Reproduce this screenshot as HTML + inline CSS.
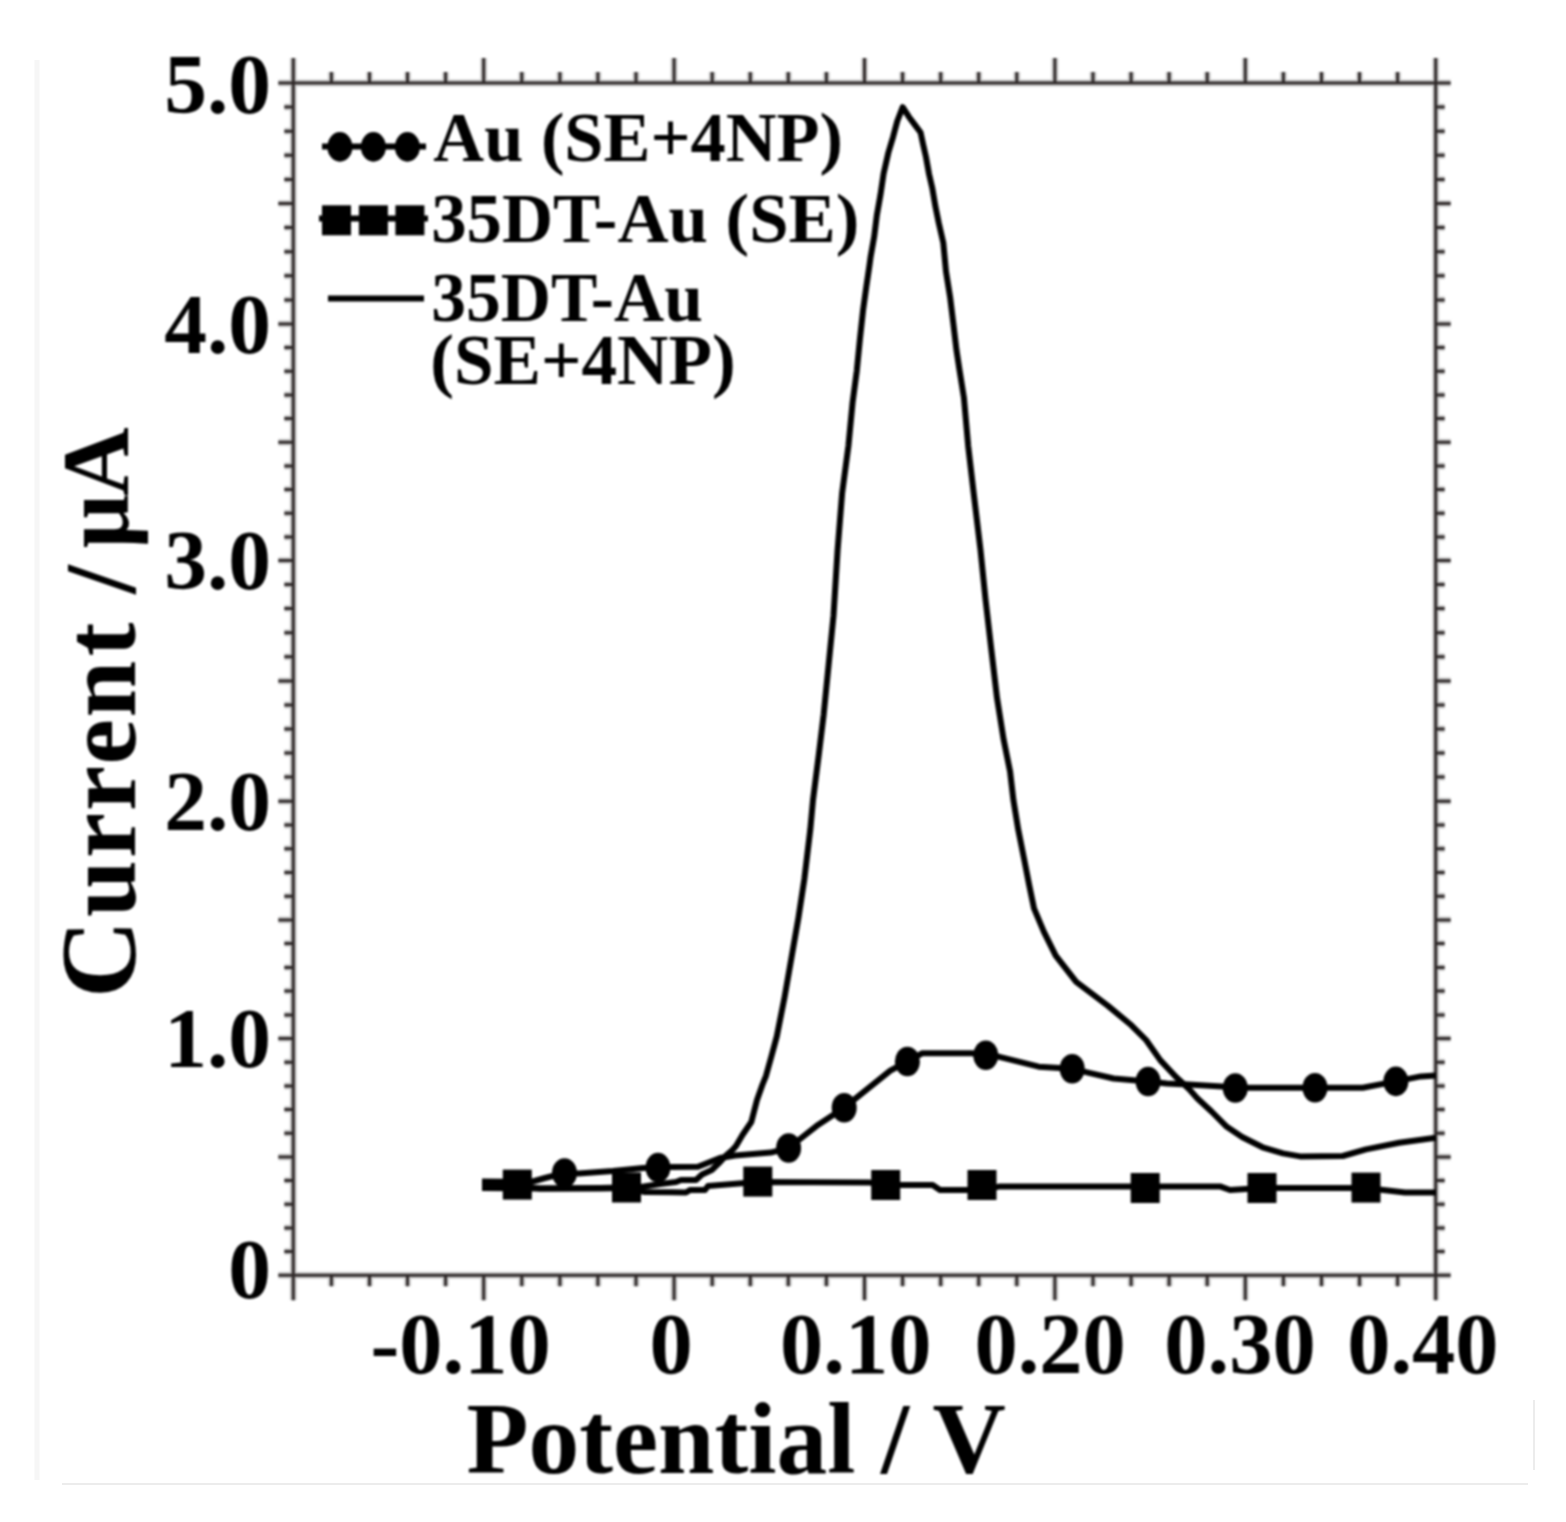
<!DOCTYPE html>
<html><head><meta charset="utf-8"><title>Current vs Potential</title>
<style>
html,body{margin:0;padding:0;background:#fff;}
body{width:1566px;height:1522px;overflow:hidden;}
svg{display:block;}
</style></head>
<body>
<svg width="1566" height="1522" viewBox="0 0 1566 1522">
<rect width="1566" height="1522" fill="#fff"/>
<path d="M62 1484H1528M1534 1400V1470" stroke="#ececec" stroke-width="2" fill="none"/>
<path d="M37 60V1480" stroke="#f6f6f6" stroke-width="5" fill="none"/>
<defs><filter id="soft" filterUnits="userSpaceOnUse" x="0" y="0" width="1566" height="1522" color-interpolation-filters="sRGB"><feGaussianBlur stdDeviation="1.3"/></filter></defs>
<g fill="#000" filter="url(#soft)">
<path d="M293.3 83.0H1435.7V1275.2H293.3Z M293.3 1275.2v25 M293.3 83.0v-25 M331.4 1275.2v11 M331.4 83.0v-11 M369.5 1275.2v11 M369.5 83.0v-11 M407.5 1275.2v11 M407.5 83.0v-11 M445.6 1275.2v11 M445.6 83.0v-11 M483.7 1275.2v25 M483.7 83.0v-25 M521.8 1275.2v11 M521.8 83.0v-11 M559.9 1275.2v11 M559.9 83.0v-11 M597.9 1275.2v11 M597.9 83.0v-11 M636.0 1275.2v11 M636.0 83.0v-11 M674.1 1275.2v25 M674.1 83.0v-25 M712.2 1275.2v11 M712.2 83.0v-11 M750.3 1275.2v11 M750.3 83.0v-11 M788.3 1275.2v11 M788.3 83.0v-11 M826.4 1275.2v11 M826.4 83.0v-11 M864.5 1275.2v25 M864.5 83.0v-25 M902.6 1275.2v11 M902.6 83.0v-11 M940.7 1275.2v11 M940.7 83.0v-11 M978.7 1275.2v11 M978.7 83.0v-11 M1016.8 1275.2v11 M1016.8 83.0v-11 M1054.9 1275.2v25 M1054.9 83.0v-25 M1093.0 1275.2v11 M1093.0 83.0v-11 M1131.1 1275.2v11 M1131.1 83.0v-11 M1169.1 1275.2v11 M1169.1 83.0v-11 M1207.2 1275.2v11 M1207.2 83.0v-11 M1245.3 1275.2v25 M1245.3 83.0v-25 M1283.4 1275.2v11 M1283.4 83.0v-11 M1321.5 1275.2v11 M1321.5 83.0v-11 M1359.5 1275.2v11 M1359.5 83.0v-11 M1397.6 1275.2v11 M1397.6 83.0v-11 M1435.7 1275.2v25 M1435.7 83.0v-25 M293.3 1275.2h-15 M1435.7 1275.2h15 M293.3 1251.5h-9 M1435.7 1251.5h9 M293.3 1227.9h-9 M1435.7 1227.9h9 M293.3 1204.2h-9 M1435.7 1204.2h9 M293.3 1180.6h-9 M1435.7 1180.6h9 M293.3 1156.9h-15 M1435.7 1156.9h15 M293.3 1133.2h-9 M1435.7 1133.2h9 M293.3 1109.6h-9 M1435.7 1109.6h9 M293.3 1085.9h-9 M1435.7 1085.9h9 M293.3 1062.3h-9 M1435.7 1062.3h9 M293.3 1038.6h-15 M1435.7 1038.6h15 M293.3 1014.9h-9 M1435.7 1014.9h9 M293.3 991.1h-9 M1435.7 991.1h9 M293.3 967.4h-9 M1435.7 967.4h9 M293.3 943.6h-9 M1435.7 943.6h9 M293.3 919.9h-15 M1435.7 919.9h15 M293.3 896.2h-9 M1435.7 896.2h9 M293.3 872.4h-9 M1435.7 872.4h9 M293.3 848.7h-9 M1435.7 848.7h9 M293.3 824.9h-9 M1435.7 824.9h9 M293.3 801.2h-15 M1435.7 801.2h15 M293.3 777.1h-9 M1435.7 777.1h9 M293.3 753.1h-9 M1435.7 753.1h9 M293.3 729.0h-9 M1435.7 729.0h9 M293.3 704.9h-9 M1435.7 704.9h9 M293.3 680.9h-15 M1435.7 680.9h15 M293.3 656.8h-9 M1435.7 656.8h9 M293.3 632.7h-9 M1435.7 632.7h9 M293.3 608.6h-9 M1435.7 608.6h9 M293.3 584.6h-9 M1435.7 584.6h9 M293.3 560.5h-15 M1435.7 560.5h15 M293.3 536.9h-9 M1435.7 536.9h9 M293.3 513.2h-9 M1435.7 513.2h9 M293.3 489.5h-9 M1435.7 489.5h9 M293.3 465.9h-9 M1435.7 465.9h9 M293.3 442.2h-15 M1435.7 442.2h15 M293.3 418.6h-9 M1435.7 418.6h9 M293.3 394.9h-9 M1435.7 394.9h9 M293.3 371.3h-9 M1435.7 371.3h9 M293.3 347.6h-9 M1435.7 347.6h9 M293.3 324.0h-15 M1435.7 324.0h15 M293.3 299.9h-9 M1435.7 299.9h9 M293.3 275.8h-9 M1435.7 275.8h9 M293.3 251.7h-9 M1435.7 251.7h9 M293.3 227.6h-9 M1435.7 227.6h9 M293.3 203.5h-15 M1435.7 203.5h15 M293.3 179.4h-9 M1435.7 179.4h9 M293.3 155.3h-9 M1435.7 155.3h9 M293.3 131.2h-9 M1435.7 131.2h9 M293.3 107.1h-9 M1435.7 107.1h9 M293.3 83.0h-15 M1435.7 83.0h15" stroke="#cfcfcf" stroke-width="7.0" fill="none"/>
<path d="M293.3 83.0H1435.7V1275.2H293.3Z M293.3 1275.2v25 M293.3 83.0v-25 M331.4 1275.2v11 M331.4 83.0v-11 M369.5 1275.2v11 M369.5 83.0v-11 M407.5 1275.2v11 M407.5 83.0v-11 M445.6 1275.2v11 M445.6 83.0v-11 M483.7 1275.2v25 M483.7 83.0v-25 M521.8 1275.2v11 M521.8 83.0v-11 M559.9 1275.2v11 M559.9 83.0v-11 M597.9 1275.2v11 M597.9 83.0v-11 M636.0 1275.2v11 M636.0 83.0v-11 M674.1 1275.2v25 M674.1 83.0v-25 M712.2 1275.2v11 M712.2 83.0v-11 M750.3 1275.2v11 M750.3 83.0v-11 M788.3 1275.2v11 M788.3 83.0v-11 M826.4 1275.2v11 M826.4 83.0v-11 M864.5 1275.2v25 M864.5 83.0v-25 M902.6 1275.2v11 M902.6 83.0v-11 M940.7 1275.2v11 M940.7 83.0v-11 M978.7 1275.2v11 M978.7 83.0v-11 M1016.8 1275.2v11 M1016.8 83.0v-11 M1054.9 1275.2v25 M1054.9 83.0v-25 M1093.0 1275.2v11 M1093.0 83.0v-11 M1131.1 1275.2v11 M1131.1 83.0v-11 M1169.1 1275.2v11 M1169.1 83.0v-11 M1207.2 1275.2v11 M1207.2 83.0v-11 M1245.3 1275.2v25 M1245.3 83.0v-25 M1283.4 1275.2v11 M1283.4 83.0v-11 M1321.5 1275.2v11 M1321.5 83.0v-11 M1359.5 1275.2v11 M1359.5 83.0v-11 M1397.6 1275.2v11 M1397.6 83.0v-11 M1435.7 1275.2v25 M1435.7 83.0v-25 M293.3 1275.2h-15 M1435.7 1275.2h15 M293.3 1251.5h-9 M1435.7 1251.5h9 M293.3 1227.9h-9 M1435.7 1227.9h9 M293.3 1204.2h-9 M1435.7 1204.2h9 M293.3 1180.6h-9 M1435.7 1180.6h9 M293.3 1156.9h-15 M1435.7 1156.9h15 M293.3 1133.2h-9 M1435.7 1133.2h9 M293.3 1109.6h-9 M1435.7 1109.6h9 M293.3 1085.9h-9 M1435.7 1085.9h9 M293.3 1062.3h-9 M1435.7 1062.3h9 M293.3 1038.6h-15 M1435.7 1038.6h15 M293.3 1014.9h-9 M1435.7 1014.9h9 M293.3 991.1h-9 M1435.7 991.1h9 M293.3 967.4h-9 M1435.7 967.4h9 M293.3 943.6h-9 M1435.7 943.6h9 M293.3 919.9h-15 M1435.7 919.9h15 M293.3 896.2h-9 M1435.7 896.2h9 M293.3 872.4h-9 M1435.7 872.4h9 M293.3 848.7h-9 M1435.7 848.7h9 M293.3 824.9h-9 M1435.7 824.9h9 M293.3 801.2h-15 M1435.7 801.2h15 M293.3 777.1h-9 M1435.7 777.1h9 M293.3 753.1h-9 M1435.7 753.1h9 M293.3 729.0h-9 M1435.7 729.0h9 M293.3 704.9h-9 M1435.7 704.9h9 M293.3 680.9h-15 M1435.7 680.9h15 M293.3 656.8h-9 M1435.7 656.8h9 M293.3 632.7h-9 M1435.7 632.7h9 M293.3 608.6h-9 M1435.7 608.6h9 M293.3 584.6h-9 M1435.7 584.6h9 M293.3 560.5h-15 M1435.7 560.5h15 M293.3 536.9h-9 M1435.7 536.9h9 M293.3 513.2h-9 M1435.7 513.2h9 M293.3 489.5h-9 M1435.7 489.5h9 M293.3 465.9h-9 M1435.7 465.9h9 M293.3 442.2h-15 M1435.7 442.2h15 M293.3 418.6h-9 M1435.7 418.6h9 M293.3 394.9h-9 M1435.7 394.9h9 M293.3 371.3h-9 M1435.7 371.3h9 M293.3 347.6h-9 M1435.7 347.6h9 M293.3 324.0h-15 M1435.7 324.0h15 M293.3 299.9h-9 M1435.7 299.9h9 M293.3 275.8h-9 M1435.7 275.8h9 M293.3 251.7h-9 M1435.7 251.7h9 M293.3 227.6h-9 M1435.7 227.6h9 M293.3 203.5h-15 M1435.7 203.5h15 M293.3 179.4h-9 M1435.7 179.4h9 M293.3 155.3h-9 M1435.7 155.3h9 M293.3 131.2h-9 M1435.7 131.2h9 M293.3 107.1h-9 M1435.7 107.1h9 M293.3 83.0h-15 M1435.7 83.0h15" stroke="#2e2828" stroke-width="3.0" fill="none"/>
<text x="271" y="112.6" text-anchor="end" font-family="Liberation Serif, Times New Roman, serif" font-weight="bold" font-size="85.5">5.0</text>
<text x="271" y="352.8" text-anchor="end" font-family="Liberation Serif, Times New Roman, serif" font-weight="bold" font-size="85.5">4.0</text>
<text x="271" y="589.0" text-anchor="end" font-family="Liberation Serif, Times New Roman, serif" font-weight="bold" font-size="85.5">3.0</text>
<text x="271" y="830.2" text-anchor="end" font-family="Liberation Serif, Times New Roman, serif" font-weight="bold" font-size="85.5">2.0</text>
<text x="271" y="1067.4" text-anchor="end" font-family="Liberation Serif, Times New Roman, serif" font-weight="bold" font-size="85.5">1.0</text>
<text x="271" y="1297.6" text-anchor="end" font-family="Liberation Serif, Times New Roman, serif" font-weight="bold" font-size="85.5">0</text>
<text x="370.5" y="1372.5" font-family="Liberation Serif, Times New Roman, serif" font-weight="bold" font-size="86.5">-0.10</text>
<text x="649.5" y="1372.5" font-family="Liberation Serif, Times New Roman, serif" font-weight="bold" font-size="86.5">0</text>
<text x="780.1" y="1372.5" font-family="Liberation Serif, Times New Roman, serif" font-weight="bold" font-size="86.5">0.10</text>
<text x="974.4" y="1372.5" font-family="Liberation Serif, Times New Roman, serif" font-weight="bold" font-size="86.5">0.20</text>
<text x="1164.3" y="1372.5" font-family="Liberation Serif, Times New Roman, serif" font-weight="bold" font-size="86.5">0.30</text>
<text x="1347.2" y="1372.5" font-family="Liberation Serif, Times New Roman, serif" font-weight="bold" font-size="86.5">0.40</text>
<text x="466.5" y="1473" font-family="Liberation Serif, Times New Roman, serif" font-weight="bold" font-size="101.5">Potential / V</text>
<text transform="translate(134.5 1000) rotate(-90)" font-family="Liberation Serif, Times New Roman, serif" font-weight="bold"><tspan x="2.1" font-size="108">C</tspan><tspan x="83.0" font-size="102">u</tspan><tspan x="141.9" font-size="102">r</tspan><tspan x="188.9" font-size="102">r</tspan><tspan x="235.6" font-size="102">e</tspan><tspan x="282.4" font-size="102">n</tspan><tspan x="343.4" font-size="102">t</tspan><tspan x="406.3" font-size="102">/</tspan></text>
<text transform="translate(128 1000) rotate(-90)" font-family="Liberation Serif, Times New Roman, serif" font-weight="bold"><tspan x="451.7" font-size="95">μ</tspan><tspan x="504.1" font-size="95">A</tspan></text>
<text x="433.3" y="161" font-family="Liberation Serif, Times New Roman, serif" font-weight="bold" font-size="70.4">Au (SE+4NP)</text>
<text x="431.2" y="241.5" font-family="Liberation Serif, Times New Roman, serif" font-weight="bold" font-size="70.8">35DT-Au (SE)</text>
<text x="431.2" y="321" font-family="Liberation Serif, Times New Roman, serif" font-weight="bold" font-size="69.5">35DT-Au</text>
<text x="430.2" y="384" font-family="Liberation Serif, Times New Roman, serif" font-weight="bold" font-size="71.2">(SE+4NP)</text>
<path d="M322 146.5H426M319 218.4H428M328 298.5H424" stroke="#000" stroke-width="6.0"/>
<ellipse cx="339.9" cy="146.9" rx="12.5" ry="14.8"/>
<ellipse cx="373.4" cy="146.9" rx="12.5" ry="14.8"/>
<ellipse cx="407.4" cy="146.9" rx="12.5" ry="14.8"/>
<rect x="322.0" y="205.3" width="29" height="30"/>
<rect x="358.9" y="205.3" width="29" height="30"/>
<rect x="395.4" y="205.3" width="29" height="30"/>
<polyline points="482,1186 517.3,1186 540,1188.5 600,1188.5 626.5,1188 645,1192 686,1192.5 690,1190 705,1190 708,1186 745,1183 757.8,1182 870,1182.6 885.7,1185 932.6,1185 940,1190 982,1190 1000,1186.4 1145,1186.4 1220,1186.4 1230,1190 1262,1188 1366,1188 1405,1192.6 1435.8,1192.6" fill="none" stroke="#000" stroke-width="6.0" stroke-linejoin="round"/>
<polyline points="482,1181.5 531,1182 545,1178 564.5,1173 578.5,1173.5 613,1171 643,1168 658,1167.6 669,1167 698,1166.8 720,1158 735,1155.5 770.7,1152.6 788.6,1148 818.3,1124.7 844.2,1107.7 890.3,1070.6 907.4,1061.5 922,1053.3 972,1053.3 985.8,1055.3 999.3,1056.8 1038.7,1066.7 1072.2,1068.7 1088,1072.6 1113.6,1078.5 1148.1,1081.5 1166.8,1083.4 1222,1086.4 1235.3,1087.8 1362.7,1087.8 1395.9,1081.4 1420.8,1076.4 1435.8,1075.5" fill="none" stroke="#000" stroke-width="6.0" stroke-linejoin="round"/>
<polyline points="482,1188 540,1188.5 600,1188 641,1187 660,1184 676,1182 681,1180 696,1180 702,1174.5 711.7,1170 720,1162 726,1155.5 732.4,1150 736,1146 742.6,1134.7 751.3,1122 757,1100 762.5,1084.5 766,1075.8 771.5,1056 776.8,1036.4 784.6,997 791.5,957.6 798.4,918.1 804.4,878.7 810.3,829.4 813,800 818.7,755.3 823.7,714.3 828.6,665 833.5,615.7 837.6,550 842.1,493.4 848.4,446.1 852.6,402.4 856.8,370.8 859.9,339.3 863.1,309.9 866.3,286.8 869.4,265.8 870.5,257.6 874.2,236.6 876.8,215.6 880.5,194.6 883.6,173.6 888.4,152.5 893.1,136.8 897.3,121 902.7,107.2 908.8,116.7 914.7,124.6 920.6,132.5 923.1,144.3 926,157.1 929,173.9 932.4,188.7 935.4,206.4 938.8,223.2 943.3,242.9 946,271.5 950.2,297.8 953.4,324.1 956.5,350.3 959.7,371.3 963.9,397.6 968.2,446.1 973.7,493.4 980.5,550 985.5,599.3 991.2,648.6 997,697.8 1003.5,738.9 1010.1,771.7 1013.4,800 1018.2,829.4 1024.1,859 1029.1,884.6 1034,908.3 1043.9,931.9 1055.7,955.6 1076.2,981.9 1107.7,1005.6 1131.4,1025.3 1146.1,1040 1160.4,1060.4 1175.8,1076.8 1189,1089 1197.2,1098.2 1211.5,1111.5 1226.8,1126.8 1242.1,1137 1262.6,1147.3 1283,1153.4 1300,1156.4 1342.8,1156 1366,1149.4 1399.2,1142.8 1435.8,1137.8" fill="none" stroke="#000" stroke-width="6.0" stroke-linejoin="round"/>
<rect x="502.8" y="1169.6" width="29" height="30"/>
<rect x="612.0" y="1172.5" width="29" height="30"/>
<rect x="743.3" y="1166.6" width="29" height="30"/>
<rect x="871.2" y="1170.0" width="29" height="30"/>
<rect x="967.5" y="1170.0" width="29" height="30"/>
<rect x="1130.7" y="1173.0" width="29" height="30"/>
<rect x="1247.5" y="1173.0" width="29" height="30"/>
<rect x="1351.5" y="1172.6" width="29" height="30"/>
<ellipse cx="564.5" cy="1173" rx="12.5" ry="14.8"/>
<ellipse cx="658" cy="1167.6" rx="12.5" ry="14.8"/>
<ellipse cx="788.6" cy="1148" rx="12.5" ry="14.8"/>
<ellipse cx="844.2" cy="1107.7" rx="12.5" ry="14.8"/>
<ellipse cx="907.4" cy="1061.5" rx="12.5" ry="14.8"/>
<ellipse cx="985.8" cy="1055.3" rx="12.5" ry="14.8"/>
<ellipse cx="1072.2" cy="1068.7" rx="12.5" ry="14.8"/>
<ellipse cx="1148.1" cy="1081.5" rx="12.5" ry="14.8"/>
<ellipse cx="1235.3" cy="1088" rx="12.5" ry="14.8"/>
<ellipse cx="1315" cy="1087.8" rx="12.5" ry="14.8"/>
<ellipse cx="1395.9" cy="1081.4" rx="12.5" ry="14.8"/>
</g>
</svg>
</body></html>
